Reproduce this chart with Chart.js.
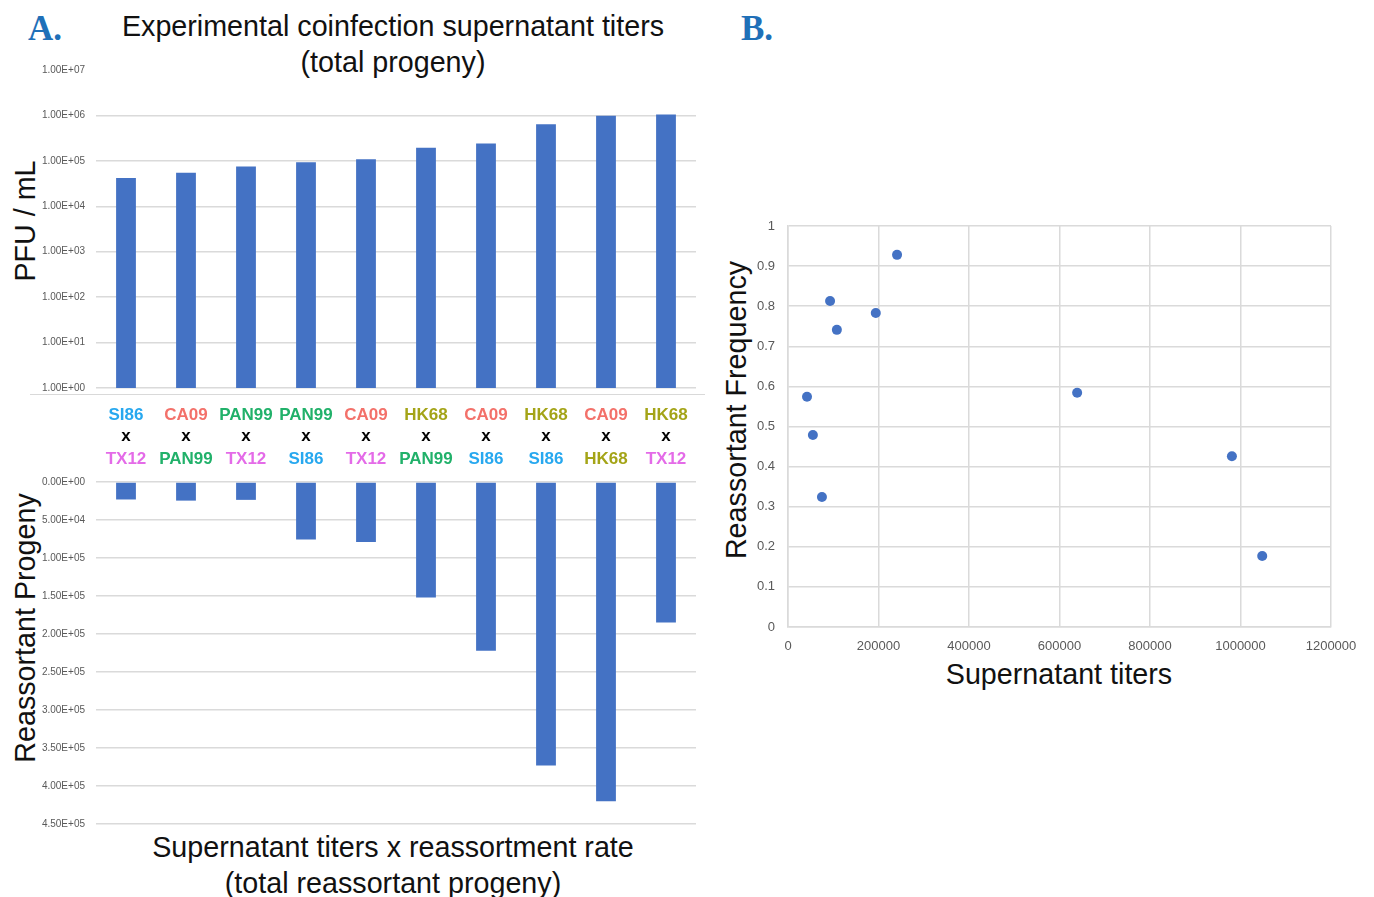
<!DOCTYPE html>
<html>
<head>
<meta charset="utf-8">
<script src="https://cdn.jsdelivr.net/npm/chart.js@4"></script>
<style>
  body { margin: 0; background: #fff; }
  #page { position: relative; width: 1374px; height: 897px; overflow: hidden; font-family: "Liberation Sans", Arial, sans-serif; color: #111; }
  .box { position: absolute; }
  .panel { position: absolute; font-family: "Liberation Serif", "Times New Roman", serif; font-weight: bold; font-size: 35px; color: #1f70b8; line-height: 1; }
  .title { position: absolute; text-align: center; font-size: 28.7px; line-height: 36px; white-space: nowrap; }
  .vtitle { position: absolute; text-align: center; font-size: 28.7px; line-height: 34px; white-space: nowrap; transform: rotate(-90deg); }
  .rule { position: absolute; height: 1px; background: #d9d9d9; }
</style>
</head>
<body>
<div id="page">
  <div class="panel" style="left:28px; top:11px;">A.</div>
  <div class="panel" style="left:741px; top:11px;">B.</div>

  <div class="title" style="left:93px; top:8px; width:600px;">Experimental coinfection supernatant titers<br>(total progeny)</div>
  <div class="title" style="left:93px; top:829px; width:600px;">Supernatant titers x reassortment rate<br>(total reassortant progeny)</div>
  <div class="vtitle" style="left:-75px; top:204px; width:200px;">PFU / mL</div>
  <div class="vtitle" style="left:-125px; top:611px; width:300px;">Reassortant Progeny</div>
  <div class="vtitle" style="left:586px; top:393px; width:300px;">Reassortant Frequency</div>
  <div class="title" style="left:909px; top:656px; width:300px;">Supernatant titers</div>

  <div class="rule" style="left:30px; top:394px; width:675px;"></div>

  <canvas id="titerChart" class="box" width="700" height="410" style="left:0; top:60px;"></canvas>
  <canvas id="progenyChart" class="box" width="700" height="365" style="left:0; top:470px;"></canvas>
  <canvas id="freqChart" class="box" width="654" height="500" style="left:720px; top:200px;"></canvas>
</div>

<script>
// coinfection pairs: first strain x second strain
const strainA = ['SI86', 'CA09', 'PAN99', 'PAN99', 'CA09', 'HK68', 'CA09', 'HK68', 'CA09', 'HK68']
const strainB = ['TX12', 'PAN99', 'TX12', 'SI86', 'TX12', 'PAN99', 'SI86', 'SI86', 'HK68', 'TX12']
const crossMark = ['x', 'x', 'x', 'x', 'x', 'x', 'x', 'x', 'x', 'x']

// PFU / mL of the coinfection supernatant
const titers = [42000, 55000, 75000, 93000, 108000, 194000, 241000, 639000, 981000, 1048000]
// reassortant fraction of the progeny
const reassortantFreq = [0.574, 0.479, 0.324, 0.813, 0.741, 0.783, 0.928, 0.584, 0.426, 0.177]
// titer x reassortment rate
const reassortantProgeny = [23000, 24500, 23500, 75500, 79000, 152000, 222000, 373000, 420000, 185000]

const logTicks = [1, 10, 100, 1000, 10000, 100000, 1000000, 10000000]

const strainColors = {
	SI86: '#27a8ef',
	CA09: '#f3716a',
	PAN99: '#21b16a',
	HK68: '#a4a417',
	TX12: '#e46be8',
}

const BAR_BLUE = '#4472c4'
const GRID = '#dadada'
const TICK_GREY = '#595959'

Chart.defaults.font.family = '"Liberation Sans", Arial, sans-serif'
Chart.defaults.animation = false

// 1.00E+05 style labels
function sci(v) {
	const parts = Number(v).toExponential(2).split('e')
	const exp = +parts[1]
	return parts[0] + 'E' + (exp < 0 ? '-' : '+') + String(Math.abs(exp)).padStart(2, '0')
}

const quiet = {
	legend: { display: false },
	tooltip: { enabled: false },
}

// fixed-width value axis, no extra room reserved for the end labels
const fixedY = width => s => {
	s.width = width
	s.paddingTop = 0
	s.paddingBottom = 0
}

// one row of pair labels under the top chart
function labelRow(labels, weight, pad, height, colorOf) {
	return {
		type: 'category',
		labels: labels,
		position: 'bottom',
		weight: weight,
		offset: true,
		grid: { display: false, drawTicks: false },
		border: { display: false },
		ticks: {
			autoSkip: false,
			maxRotation: 0,
			padding: pad,
			font: { size: 17, weight: 'bold' },
			color: colorOf,
		},
		afterFit: s => {
			s.height = height
			s.paddingLeft = 0
			s.paddingRight = 0
		},
	}
}

new Chart(document.getElementById('titerChart'), {
	type: 'bar',
	data: {
		labels: strainA,
		datasets: [{
			data: titers,
			backgroundColor: BAR_BLUE,
			barPercentage: 0.33,
			categoryPercentage: 1,
		}],
	},
	options: {
		responsive: false,
		layout: { padding: { top: 10, right: 4, bottom: 1, left: 0 } },
		plugins: quiet,
		scales: {
			x: labelRow(strainA, 0, 16.8, 37, c => strainColors[strainA[c.index]]),
			xCross: labelRow(crossMark, 1, 0.8, 22, '#000'),
			xSecond: labelRow(strainB, 2, 1.8, 22, c => strainColors[strainB[c.index]]),
			y: {
				type: 'logarithmic',
				min: 1,
				max: 10000000,
				afterBuildTicks: s => { s.ticks = logTicks.map(value => ({ value })) },
				grid: {
					drawTicks: false,
					lineWidth: 1.5,
					color: c => (c.tick && c.tick.value === 10000000) ? 'rgba(0,0,0,0)' : GRID,
				},
				border: { display: false },
				ticks: { callback: sci, padding: 11, color: TICK_GREY, font: { size: 10 } },
				afterFit: fixedY(96),
			},
		},
	},
})

new Chart(document.getElementById('progenyChart'), {
	type: 'bar',
	data: {
		labels: strainA,
		datasets: [{
			data: reassortantProgeny,
			backgroundColor: BAR_BLUE,
			barPercentage: 0.33,
			categoryPercentage: 1,
		}],
	},
	options: {
		responsive: false,
		layout: { padding: { top: 12, right: 4, bottom: 11, left: 0 } },
		plugins: quiet,
		scales: {
			x: { display: false, offset: true },
			y: {
				reverse: true,
				min: 0,
				max: 450000,
				grid: { drawTicks: false, lineWidth: 1.5, color: GRID },
				border: { display: false },
				ticks: { stepSize: 50000, callback: sci, padding: 11, color: TICK_GREY, font: { size: 10 } },
				afterFit: fixedY(96),
			},
		},
	},
})

new Chart(document.getElementById('freqChart'), {
	type: 'scatter',
	data: {
		datasets: [{
			data: titers.map((t, i) => ({ x: t, y: reassortantFreq[i] })),
			backgroundColor: BAR_BLUE,
			borderWidth: 0,
			pointRadius: 5,
		}],
	},
	options: {
		responsive: false,
		layout: { padding: { top: 26, right: 43, bottom: 38, left: 0 } },
		plugins: quiet,
		scales: {
			x: {
				type: 'linear',
				min: 0,
				max: 1200000,
				grid: { drawTicks: false, lineWidth: 1.5, color: GRID },
				border: { color: GRID, width: 1.5 },
				ticks: { stepSize: 200000, callback: v => String(v), padding: 12, color: TICK_GREY, font: { size: 13 } },
				afterFit: s => { s.height = 35 },
			},
			y: {
				min: 0,
				max: 1,
				grid: { drawTicks: false, lineWidth: 1.5, color: GRID },
				border: { color: GRID, width: 1.5 },
				ticks: { stepSize: 0.1, callback: v => String(+v.toFixed(1)), padding: 13, color: TICK_GREY, font: { size: 13 } },
				afterFit: s => { s.width = 68 },
			},
		},
	},
})
</script>
</body>
</html>
